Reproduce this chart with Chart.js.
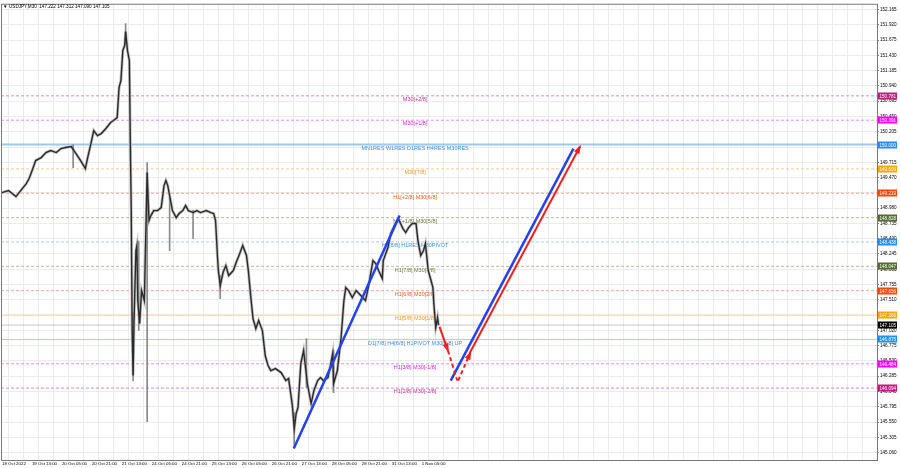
<!DOCTYPE html>
<html>
<head>
<meta charset="utf-8">
<script src="https://cdn.jsdelivr.net/npm/chart.js@4.4.0/dist/chart.umd.min.js"></script>
<style>
html, body { margin: 0; padding: 0; background: #fff; overflow: hidden; }
canvas { display: block; }
</style>
</head>
<body>
<canvas id="chart" width="900" height="468"></canvas>
<script>
// USDJPY M30 with Murrey levels, bar index on x (one bar = 30 min)

const title = 'USDJPY,M30  147.222 147.312 147.090 147.105';

const xLabels = ['18 Oct 2022', '19 Oct 13:00', '20 Oct 05:00', '20 Oct 21:00', '21 Oct 13:00',
  '24 Oct 05:00', '24 Oct 21:00', '25 Oct 13:00', '26 Oct 05:00', '26 Oct 21:00',
  '27 Oct 13:00', '28 Oct 05:00', '28 Oct 21:00', '31 Oct 13:00', '1 Nov 05:00'];

const yTicks = [152.165, 151.920, 151.675, 151.430, 151.185, 150.940, 150.695, 150.450, 150.205,
  149.960, 149.715, 149.470, 149.225, 148.980, 148.735, 148.490, 148.245, 148.000, 147.755,
  147.510, 147.265, 147.020, 146.775, 146.530, 146.285, 146.040, 145.795, 145.550, 145.305, 145.060];

// close prices
const priceBars = [0, 7, 15, 20, 26, 29, 33, 36, 42, 47, 52, 58, 63, 68, 74, 79, 84, 89, 92, 95,
  98, 102, 106, 111, 116, 119, 123, 125, 127, 129, 131, 132, 134, 136, 137, 138, 139, 140, 141, 143,
  144, 145, 147, 149, 152, 155, 157, 159, 162, 166, 170, 173, 175, 177, 180, 182, 186, 189, 193, 196,
  199, 204, 208, 212, 218, 223, 226, 228, 230, 231, 233, 236, 239, 242, 247, 250, 253, 257, 261, 263,
  266, 268, 271, 274, 278, 281, 284, 287, 292, 298, 303, 306, 310, 312, 314, 316, 319, 322, 326, 330,
  333, 337, 340, 343, 348, 351, 353, 354, 358, 362, 365, 367, 370, 374, 378, 381, 385, 388, 391, 396,
  399, 402, 406, 407, 412, 415, 420, 423, 428, 431, 434, 438, 442, 444, 447, 450, 452, 455, 458, 460,
  461, 463, 465, 466];
const priceClose = [149.230, 149.262, 149.166, 149.262, 149.374, 149.455, 149.615, 149.743, 149.791, 149.872,
  149.904, 149.872, 149.936, 149.952, 149.968, 149.856, 149.743, 149.615, 149.824, 150.016,
  150.224, 150.144, 150.176, 150.257, 150.353, 150.385, 150.433, 150.914, 151.027, 151.507,
  151.588, 151.812, 151.507, 151.347, 150.064, 148.941, 147.017, 146.295, 147.177, 148.300,
  148.380, 147.498, 147.129, 147.658, 147.498, 149.551, 148.781, 148.861, 148.941, 148.941,
  148.989, 149.342, 149.423, 149.342, 149.102, 148.941, 148.829, 148.893, 148.941, 149.022,
  148.941, 148.909, 148.941, 148.909, 148.941, 148.909, 148.893, 148.781, 148.220, 147.979,
  147.738, 147.947, 148.059, 147.899, 147.979, 148.107, 148.220, 148.380, 148.220, 147.979,
  147.498, 147.209, 147.049, 147.177, 147.017, 146.616, 146.456, 146.375, 146.407, 146.343,
  146.215, 146.247, 145.814, 145.445, 145.686, 145.782, 146.488, 146.696, 146.167, 145.846,
  146.055, 146.215, 146.263, 146.215, 146.263, 146.488, 146.648, 146.167, 146.375, 146.905,
  147.498, 147.706, 147.658, 147.546, 147.658, 147.610, 147.546, 147.498, 147.706, 148.139,
  148.091, 147.979, 147.851, 148.139, 148.348, 148.573, 148.733, 148.813, 148.653, 148.589,
  148.669, 148.733, 148.733, 148.460, 148.220, 148.300, 148.412, 147.979, 147.819, 147.706,
  147.450, 147.065, 147.225, 147.105];

// long wicks
const wickBars = [76, 132, 140, 146, 155, 179, 204, 233, 312, 325, 354];
const wickLow = [149.631, 151.600, 146.210, 147.020, 145.557, 148.300, 148.490, 147.530, 145.160, 146.100, 146.020];
const wickHigh = [150.000, 151.940, 147.300, 148.450, 149.711, 149.150, 148.950, 147.900, 145.700, 146.890, 146.700];

// murrey / pivot levels
const levelValues = [150.781, 150.391, 150.000, 149.609, 149.219, 148.828, 148.438, 148.047,
  147.656, 147.266, 146.875, 146.484, 146.094];
const levelNames = ['M30[+2/8]', 'M30[+1/8]', 'MN1RES W1RES D1RES H4RES M30RES', 'M30[7/8]',
  'H1[+2/8] M30[6/8]', 'H1[+1/8] M30[5/8]', 'H1[8/8] H1RES M30PIVOT', 'H1[7/8] M30[3/8]',
  'H1[6/8] M30[2/8]', 'H1[5/8] M30[1/8]', 'D1[7/8] H4[6/8] H1PIVOT M30[0/8] UP',
  'H1[3/8] M30[-1/8]', 'H1[2/8] M30[-2/8]'];
const lastPrice = 147.105;

// drawn trend lines / forecast arrows
const trendFromBar = [311.5, 467, 476, 487, 479, 499];
const trendFromPrice = [145.124, 147.081, 146.696, 146.215, 146.215, 146.648];
const trendToBar = [424.5, 476, 486, 500, 610, 617];
const trendToPrice = [148.861, 146.696, 146.215, 146.664, 149.936, 149.968];

// styles
const levelStyle = [
  { line: '#d987d0', text: '#c0309a', box: '#b8227e', dash: [3, 2] },
  { line: '#f08af0', text: '#e020e0', box: '#ff00ff', dash: [3, 2] },
  { line: '#9cc8f2', text: '#3a8ee6', box: '#1e90ff', dash: [], width: 2 },
  { line: '#f9c88e', text: '#f09a20', box: '#ffa500', dash: [3, 2] },
  { line: '#f5a58c', text: '#f05a28', box: '#ff4500', dash: [3, 2] },
  { line: '#b9bc9a', text: '#6b7a3c', box: '#556b2f', dash: [3, 2] },
  { line: '#a8cdf2', text: '#3a8ee6', box: '#1e90ff', dash: [3, 2] },
  { line: '#b9bc9a', text: '#6b7a3c', box: '#556b2f', dash: [3, 2] },
  { line: '#f5a58c', text: '#f05a28', box: '#ff4500', dash: [3, 2] },
  { line: '#f9d0a0', text: '#f09a20', box: '#ffa500', dash: [] },
  { line: '#a8cdf2', text: '#3a8ee6', box: '#1e90ff', dash: [] },
  { line: '#f08af0', text: '#e020e0', box: '#ff00ff', dash: [3, 2] },
  { line: '#d987d0', text: '#c0309a', box: '#c71585', dash: [3, 2] }
];
const trendStyle = [
  { color: '#2442f5', width: 2.5, dash: [], arrow: false },
  { color: '#f02020', width: 2, dash: [], arrow: true },
  { color: '#f02020', width: 2, dash: [4, 3], arrow: false },
  { color: '#f02020', width: 2, dash: [4, 3], arrow: true },
  { color: '#2442f5', width: 2.5, dash: [], arrow: false },
  { color: '#f02020', width: 2, dash: [], arrow: true }
];

const xMin = -1, xMax = 934;
const yMin = 144.941, yMax = 152.258;
const labelBar = 441;
const tinyFont = 'Liberation Sans';

const datasets = [];

levelValues.forEach((v, i) => {
  const st = levelStyle[i];
  datasets.push({
    type: 'line',
    data: [{ x: xMin, y: v }, { x: xMax, y: v }],
    borderColor: st.line,
    borderWidth: st.width || 1,
    borderDash: st.dash,
    pointRadius: 0,
    order: 5
  });
});

datasets.push({
  type: 'line',
  data: [{ x: xMin, y: lastPrice }, { x: xMax, y: lastPrice }],
  borderColor: '#c8c8c8',
  borderWidth: 1,
  pointRadius: 0,
  order: 5
});

datasets.push({
  type: 'bar',
  data: wickBars.map((b, i) => ({ x: b, y: [wickLow[i], wickHigh[i]] })),
  backgroundColor: '#8a8a8a',
  barThickness: 1,
  order: 3
});

datasets.push({
  type: 'line',
  data: priceBars.map((b, i) => ({ x: b, y: priceClose[i] })),
  borderColor: '#c2c2c2',
  borderWidth: 3,
  pointRadius: 0,
  order: 4
});
datasets.push({
  type: 'line',
  data: priceBars.map((b, i) => ({ x: b, y: priceClose[i] })),
  borderColor: '#2a2a2a',
  borderWidth: 1.4,
  pointRadius: 0,
  order: 2
});

trendFromBar.forEach((b, i) => {
  const st = trendStyle[i];
  datasets.push({
    type: 'line',
    data: [{ x: b, y: trendFromPrice[i] }, { x: trendToBar[i], y: trendToPrice[i] }],
    borderColor: st.color,
    borderWidth: st.width,
    borderDash: st.dash,
    pointRadius: 0,
    arrowHead: st.arrow,
    order: 0
  });
});

const overlay = {
  id: 'overlay',
  beforeDatasetsDraw(chart) {
    const ctx = chart.ctx, xs = chart.scales.x, ys = chart.scales.y;
    ctx.save();
    ctx.font = '5.5px "' + tinyFont + '"';
    ctx.textAlign = 'center';
    ctx.textBaseline = 'top';
    levelValues.forEach((v, i) => {
      ctx.fillStyle = levelStyle[i].text;
      ctx.fillText(levelNames[i], xs.getPixelForValue(labelBar), ys.getPixelForValue(v) + 1);
    });
    ctx.restore();
  },
  afterDraw(chart) {
    const ctx = chart.ctx, ys = chart.scales.y, a = chart.chartArea;
    ctx.save();
    // frame
    ctx.strokeStyle = '#7a7a7a';
    ctx.lineWidth = 1;
    ctx.strokeRect(a.left + 0.5, a.top + 0.5, a.right - a.left, a.bottom - a.top);

    // arrow heads
    chart.data.datasets.forEach((ds, i) => {
      if (!ds.arrowHead) return;
      const pts = chart.getDatasetMeta(i).data;
      const p0 = pts[pts.length - 2], p1 = pts[pts.length - 1];
      const ang = Math.atan2(p1.y - p0.y, p1.x - p0.x);
      const L = 7, W = 3;
      ctx.fillStyle = ds.borderColor;
      ctx.beginPath();
      ctx.moveTo(p1.x + Math.cos(ang) * 2, p1.y + Math.sin(ang) * 2);
      ctx.lineTo(p1.x - Math.cos(ang) * L - Math.sin(ang) * W, p1.y - Math.sin(ang) * L + Math.cos(ang) * W);
      ctx.lineTo(p1.x - Math.cos(ang) * L + Math.sin(ang) * W, p1.y - Math.sin(ang) * L - Math.cos(ang) * W);
      ctx.closePath();
      ctx.fill();
    });

    // price boxes on the right axis
    ctx.font = '4.6px "' + tinyFont + '"';
    ctx.textAlign = 'left';
    ctx.textBaseline = 'middle';
    const boxes = levelValues.map((v, i) => ({ v, c: levelStyle[i].box }));
    boxes.push({ v: lastPrice, c: '#000000' });
    boxes.forEach(b => {
      const y = Math.round(ys.getPixelForValue(b.v));
      ctx.fillStyle = b.c;
      ctx.fillRect(a.right + 1, y - 3.5, 19, 7);
      ctx.fillStyle = '#ffffff';
      ctx.fillText(b.v.toFixed(3), a.right + 2.5, y + 0.5);
    });

    // symbol caption
    ctx.fillStyle = '#000';
    ctx.font = '4.6px "' + tinyFont + '"';
    ctx.textBaseline = 'middle';
    ctx.fillText('\u25BC', a.left + 2, a.top + 3);
    ctx.fillText(title, a.left + 8, a.top + 3);
    ctx.restore();
  }
};

new Chart(document.getElementById('chart'), {
  type: 'line',
  data: { datasets },
  options: {
    responsive: false,
    animation: false,
    devicePixelRatio: 1,
    layout: { padding: { top: 1, left: 1, right: 0, bottom: 0 } },
    plugins: { legend: { display: false }, tooltip: { enabled: false } },
    scales: {
      x: {
        type: 'linear', position: 'bottom', min: xMin, max: xMax, offset: false,
        grid: { display: false, drawTicks: false },
        border: { display: false },
        ticks: {
          align: 'start', maxRotation: 0, autoSkip: false, padding: 1, color: '#000',
          font: { family: tinyFont, size: 4.4 },
          callback: v => xLabels[Math.round(v / 32)]
        },
        afterBuildTicks: s => { s.ticks = xLabels.map((_, i) => ({ value: i * 32 })); },
        afterFit: s => { s.height = 8; }
      },
      xg: {
        type: 'linear', position: 'bottom', min: xMin, max: xMax, offset: false,
        grid: { color: '#ececec', drawTicks: false },
        border: { display: false },
        ticks: { display: false },
        afterBuildTicks: s => {
          const t = [];
          for (let b = 7; b < xMax; b += 16) t.push({ value: b });
          s.ticks = t;
        },
        afterFit: s => { s.height = 0; }
      },
      y: {
        type: 'linear', position: 'right', min: yMin, max: yMax,
        grid: { color: '#ececec', tickLength: 2, tickColor: '#7a7a7a' },
        border: { display: false },
        ticks: {
          padding: 1, color: '#000', autoSkip: false,
          font: { family: tinyFont, size: 4.6 },
          callback: v => v.toFixed(3)
        },
        afterBuildTicks: s => { s.ticks = yTicks.map(v => ({ value: v })); },
        afterFit: s => { s.width = 23; }
      }
    }
  },
  plugins: [overlay]
});
</script>
</body>
</html>
